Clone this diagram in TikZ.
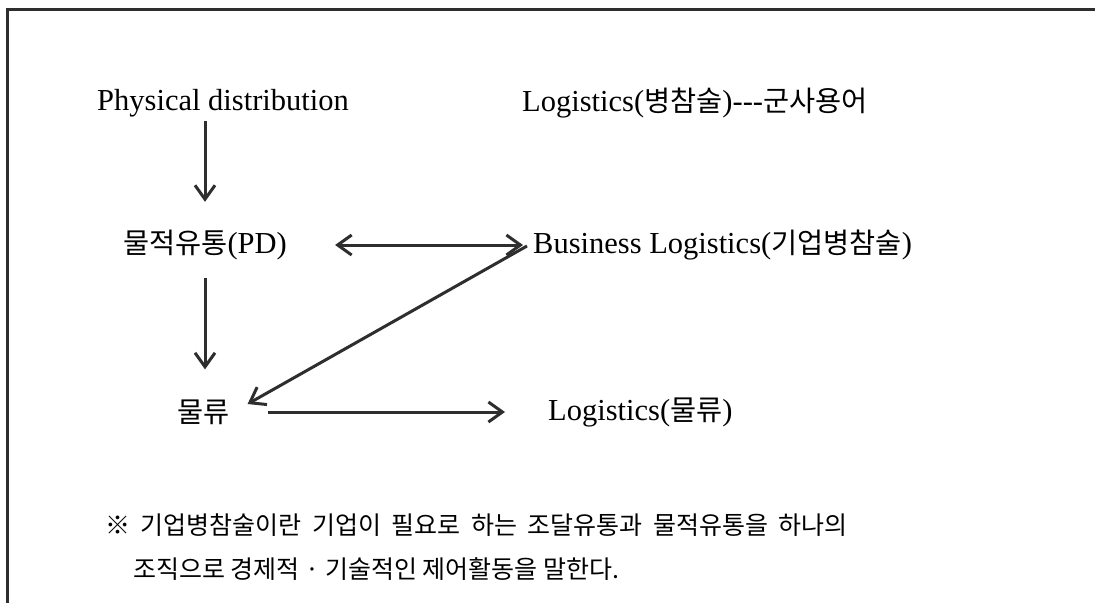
\documentclass[tikz,border=0pt]{standalone}
\usepackage{fontspec}
\setmainfont{Liberation Serif}
\newfontfamily\krf{Noto Sans CJK KR}[Scale=0.93]
\newfontfamily\krn{Noto Sans CJK KR}
\newcommand{\kr}[1]{{\krf #1}}
\usetikzlibrary{arrows.meta}
\definecolor{ink}{HTML}{2E2E2E}
\begin{document}
\begin{tikzpicture}[x=1pt,y=-1pt,
  lbl/.style={inner sep=0pt, anchor=west, text=black, font=\fontsize{30.5}{36}\selectfont},
  notetxt/.style={inner sep=0pt, anchor=west, text=black, font=\krn\fontsize{25}{30}\selectfont},
  arr/.style={draw=ink, line width=3pt, -{Straight Barb[length=14pt,width=20pt,line width=3pt]}},
  arrtwo/.style={draw=ink, line width=3pt, {Straight Barb[length=14pt,width=20pt,line width=3pt]}-{Straight Barb[length=14pt,width=20pt,line width=3pt]}},
  frame/.style={draw=ink, line width=3pt}]
\useasboundingbox (0,0) rectangle (1095,603);
\fill[white] (0,0) rectangle (1095,603);
% frame
\coordinate (ftl) at (7,9.5);
\coordinate (ftr) at (1095,9.5);
\coordinate (fbl) at (7,603);
\draw[frame] (ftr) -- (ftl) -- (fbl);
% labels
\node[lbl] (pd) at (97,103) {Physical distribution};
\node[lbl] (lm) at (522,103) {Logistics(\kr{병참술})-{}-{}-\kr{군사용어}};
\node[lbl] (pdk) at (123,245) {\kr{물적유통}(PD)};
\node[lbl] (bl) at (533,245) {Business Logistics(\kr{기업병참술})};
\node[lbl] (ml) at (177,412) {\kr{물류}};
\node[lbl] (lg) at (548,412) {Logistics(\kr{물류})};
% note
\node[notetxt] (n1) at (105,525) {\spaceskip=10.5pt ※ 기업병참술이란 기업이 필요로 하는 조달유통과 물적유통을 하나의};
\node[notetxt] (n2) at (133,569) {조직으로 경제적 · 기술적인 제어활동을 말한다.};
% arrows
\coordinate (ax) at (205,0);
\draw[arr] ([yshift=-4pt]pd.south -| ax) -- ([yshift=28pt]pdk.north -| ax);
\draw[arr] ([yshift=-18pt]pdk.south -| ax) -- ([yshift=30pt]ml.north -| ax);
\draw[arrtwo] ([xshift=48pt]pdk.east) -- ([xshift=-10pt]bl.west);
\draw[arr] ([xshift=-6pt,yshift=-1pt]bl.west) -- ([xshift=18pt,yshift=8pt]ml.east);
\draw[arr] ([xshift=38pt]ml.east) -- ([xshift=-43pt]lg.west);
\end{tikzpicture}
\end{document}
